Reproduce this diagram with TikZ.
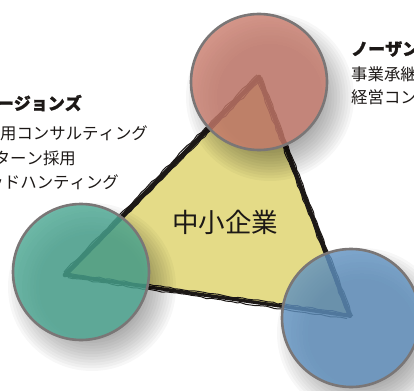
\documentclass[tikz,border=0pt]{standalone}
\usepackage{fontspec}
\newfontfamily\jp[Kerning=Off, BoldFeatures={FakeBold=1.2}]{Noto Sans CJK JP}
\usetikzlibrary{decorations.pathmorphing}
\definecolor{triyel}{RGB}{228,219,135}
\definecolor{redc}{RGB}{201,124,109}
\definecolor{greenc}{RGB}{74,167,146}
\definecolor{bluec}{RGB}{96,146,193}
\definecolor{rimc}{RGB}{122,118,118}
\definecolor{inkc}{RGB}{28,24,22}
\tikzset{
  brush/.style={draw=inkc, line join=round, line cap=round},
  brushfine/.style={draw=inkc, line width=1pt, decorate, decoration={random steps, segment length=5pt, amplitude=0.7pt}},
  bubble/.style={draw=rimc, line width=2.6pt, fill opacity=0.8},
  shade1/.style={fill=black, fill opacity=0.032},
  titletext/.style={font=\jp\bfseries\fontsize{17}{17}\selectfont, text=inkc, inner sep=0pt},
  bodytext/.style={font=\jp\fontsize{16.4}{16.4}\selectfont, text=inkc, inner sep=0pt},
  centertext/.style={font=\jp\fontsize{26.5}{26.5}\selectfont, text=inkc, inner sep=0pt}
}
\begin{document}
\begin{tikzpicture}[x=1pt,y=-1pt]
\useasboundingbox (0,0) rectangle (414,390);
\clip (0,0) rectangle (414,390);
\coordinate (A) at (259,77);
\coordinate (B) at (65,275);
\coordinate (C) at (350,316);
\coordinate (R) at (259,82);
\coordinate (G) at (81,272);
\coordinate (U) at (351,318);
% triangle
\fill[triyel] (A) -- (B) -- (C) -- cycle;
\draw[brush, line width=4.6pt] (A) -- (B);
\draw[brush, line width=3.4pt] (B) -- (C);
\draw[brush, line width=4.2pt] (C) -- (A);
\draw[brushfine] ([shift={(2,2.8)}]A) -- ([shift={(2.8,-1.5)}]B);
\draw[brushfine] ([shift={(-2,-2.2)}]A) -- ([shift={(-1,-3)}]B);
\draw[brushfine] ([shift={(3,2.6)}]B) -- ([shift={(-3,2.6)}]C);
\draw[brushfine] ([shift={(0,-2.2)}]B) -- ([shift={(0,-2.2)}]C);
\draw[brushfine] ([shift={(2.6,0)}]A) -- ([shift={(2.6,0)}]C);
\draw[brushfine] ([shift={(-2.6,1)}]A) -- ([shift={(-2.6,-2)}]C);
% shadows
\foreach \k in {0,...,11} {
  \fill[shade1] ([shift={(11,15)}]R) circle ({84-2.8*\k});
  \fill[shade1] ([shift={(11,15)}]G) circle ({84-2.8*\k});
  \fill[shade1] ([shift={(11,15)}]U) circle ({85-2.8*\k});
}
% circles
\filldraw[bubble, fill=redc] (R) circle (68);
\filldraw[bubble, fill=greenc] (G) circle (68);
\filldraw[bubble, fill=bluec] (U) circle (69);
% texts
\node[centertext] (c) at (225,222) {中小企業};
\node[titletext, anchor=east] (lt) at (82,103) {ージョンズ};
\node[bodytext, anchor=east] (l1) at (148,133) {用コンサルティング};
\node[bodytext, anchor=east] (l2) at (76,158) {ターン採用};
\node[bodytext, anchor=east] (l3) at (119,182) {ッドハンティング};
\node[titletext, anchor=west] (rt) at (351,49) {ノーザン};
\node[bodytext, anchor=west] (r1) at (351,74) {事業承継};
\node[bodytext, anchor=west] (r2) at (351,97) {経営コン};
\end{tikzpicture}
\end{document}
